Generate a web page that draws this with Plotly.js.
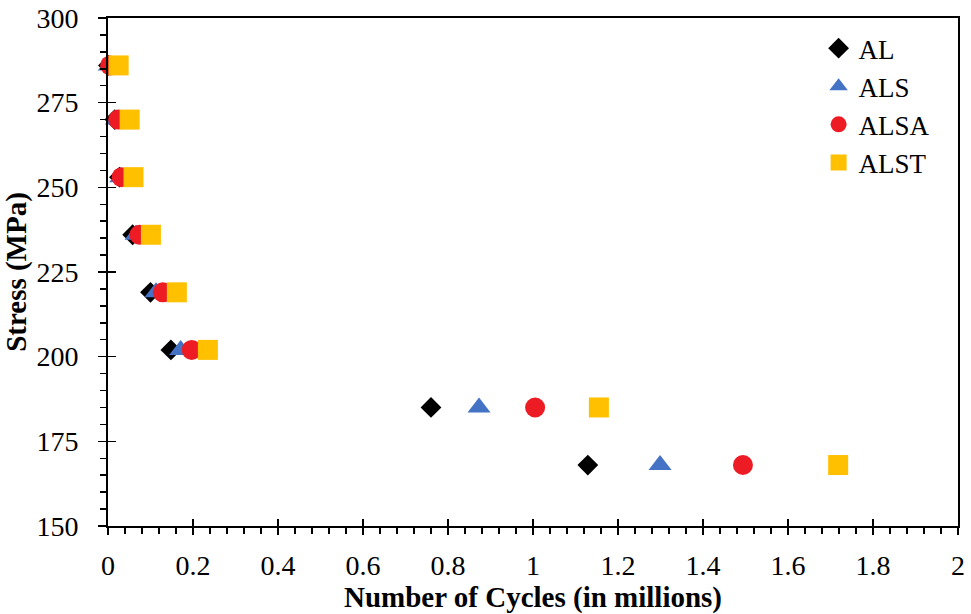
<!DOCTYPE html>
<html>
<head>
<meta charset="utf-8">
<script src="https://cdn.plot.ly/plotly-3.0.1.min.js"></script>
<style>
html,body{margin:0;padding:0;background:#fff;}
#chart{position:absolute;left:0;top:0;width:971px;height:614px;z-index:2;}
.warm{position:absolute;left:300px;top:200px;z-index:1;font-family:"Liberation Serif","DejaVu Serif",serif;font-size:30px;color:#000;}
#chart text{fill:#000 !important;}
</style>
</head>
<body>
<div class="warm">0.2 Stress AL</div>
<div class="warm" style="top:250px;font-weight:bold">0.2 Stress AL</div>
<div id="chart"></div>
<script>
const stress = [286, 270, 253, 236, 219, 202, 185, 168];
const cyclesAL   = [0.001, 0.016, 0.027, 0.058, 0.100, 0.148, 0.760, 1.129];
const cyclesALS  = [0.003, 0.020, 0.030, 0.066, 0.113, 0.171, 0.873, 1.299];
const cyclesALSA = [0.005, 0.024, 0.032, 0.074, 0.129, 0.197, 1.005, 1.494];
const cyclesALST = [0.025, 0.051, 0.060, 0.101, 0.162, 0.235, 1.155, 1.718];
const seriesNames = ['AL', 'ALS', 'ALSA', 'ALST'];
const xTickVals = [0, 0.2, 0.4, 0.6, 0.8, 1, 1.2, 1.4, 1.6, 1.8, 2];
const xTickText = ['0', '0.2', '0.4', '0.6', '0.8', '1', '1.2', '1.4', '1.6', '1.8', '2'];
const yTickVals = [150, 175, 200, 225, 250, 275, 300];

const FONT = 'Liberation Serif, DejaVu Serif, serif';
const styles = [
  {symbol: 'diamond', color: '#000000', size: 16},
  {symbol: 'triangle-up', color: '#4472C4', size: 20},
  {symbol: 'circle', color: '#ED1C24', size: 20},
  {symbol: 'square', color: '#FFC000', size: 20}
];
const xs = [cyclesAL, cyclesALS, cyclesALSA, cyclesALST];
const traces = xs.map((x, i) => ({
  type: 'scatter', mode: 'markers', name: seriesNames[i],
  x: x, y: stress, legendgroup: 'g' + i, cliponaxis: false,
  marker: {symbol: styles[i].symbol, color: styles[i].color, size: styles[i].size, line: {width: 0}}
}));
// invisible trace to activate overlay axes (major ticks crossing the axis line)
traces.push({type: 'scatter', mode: 'markers', x: [0], y: [150], xaxis: 'x2', yaxis: 'y2',
  showlegend: false, hoverinfo: 'skip', marker: {opacity: 0}});

const layout = {
  width: 971, height: 614,
  margin: {l: 108, r: 13, t: 18, b: 88},
  paper_bgcolor: '#fff', plot_bgcolor: '#fff',
  font: {family: FONT, size: 26},
  showlegend: true,
  legend: {x: 0.836, xanchor: 'left', y: 0.988, yanchor: 'top', bgcolor: 'rgba(0,0,0,0)',
    font: {family: FONT, size: 27}, traceorder: 'grouped', tracegroupgap: 0},
  xaxis: {
    range: [0, 2], tickvals: xTickVals, ticktext: xTickText,
    showgrid: false, zeroline: false, showline: true, linecolor: '#000', linewidth: 2, mirror: true,
    ticks: 'outside', ticklen: 7, tickwidth: 1.5, tickcolor: '#000', ticklabelstandoff: 6,
    minor: {dtick: 0.04, ticks: 'outside', ticklen: 6, tickwidth: 1.5, tickcolor: '#000', showgrid: false},
    tickfont: {family: FONT, size: 28},
    title: {text: '<b>Number of Cycles (in millions)</b>', font: {family: FONT, size: 29}, standoff: 6}
  },
  yaxis: {
    range: [150, 300], tickvals: yTickVals,
    showgrid: false, zeroline: false, showline: true, linecolor: '#000', linewidth: 2, mirror: true,
    ticks: 'outside', ticklen: 8, tickwidth: 1.5, tickcolor: '#000', ticklabelstandoff: 14,
    minor: {dtick: 5, ticks: 'outside', ticklen: 6, tickwidth: 1.5, tickcolor: '#000', showgrid: false},
    tickfont: {family: FONT, size: 28},
    title: {text: '<b>Stress (MPa)</b>', font: {family: FONT, size: 29}, standoff: 12}
  },
  xaxis2: {overlaying: 'x', range: [0, 2], tickvals: xTickVals, showticklabels: false, showgrid: false,
    zeroline: false, showline: false, ticks: 'inside', ticklen: 7, tickwidth: 1.5, tickcolor: '#000'},
  yaxis2: {overlaying: 'y', range: [150, 300], tickvals: yTickVals, showticklabels: false, showgrid: false,
    zeroline: false, showline: false, ticks: 'inside', ticklen: 8, tickwidth: 1.5, tickcolor: '#000'}
};
const draw = () => Plotly.newPlot('chart', traces, layout, {displayModeBar: false, staticPlot: true});
const loads = (document.fonts && document.fonts.load) ?
  Promise.all([document.fonts.load('28px "Liberation Serif"'), document.fonts.load('bold 29px "Liberation Serif"')]).catch(() => null) :
  Promise.resolve();
loads.then(draw);
</script>
</body>
</html>
